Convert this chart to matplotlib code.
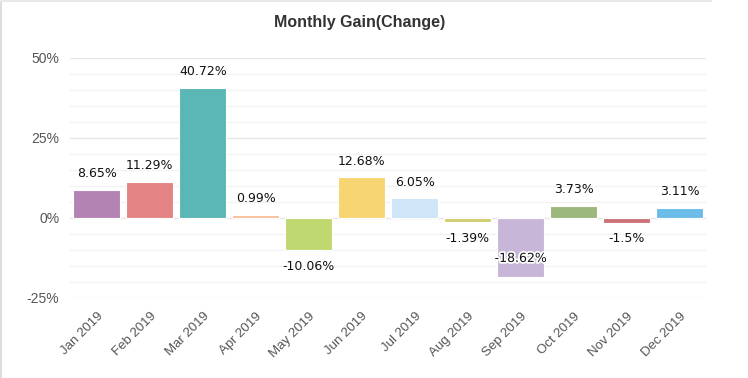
import matplotlib.pyplot as plt
import matplotlib.patheffects as pe
from matplotlib.lines import Line2D
from matplotlib.ticker import MultipleLocator, FuncFormatter

months = ["Jan 2019", "Feb 2019", "Mar 2019", "Apr 2019", "May 2019", "Jun 2019",
          "Jul 2019", "Aug 2019", "Sep 2019", "Oct 2019", "Nov 2019", "Dec 2019"]
gains = [8.65, 11.29, 40.72, 0.99, -10.06, 12.68, 6.05, -1.39, -18.62, 3.73, -1.5, 3.11]
labels = ["8.65%", "11.29%", "40.72%", "0.99%", "-10.06%", "12.68%",
          "6.05%", "-1.39%", "-18.62%", "3.73%", "-1.5%", "3.11%"]
colors = ["#b384b3", "#e48383", "#5bb7b5", "#f9c09a", "#c0d870", "#f8d573",
          "#cfe6f8", "#d1cf70", "#c8b6d8", "#9db87c", "#cc737a", "#6bbce8"]

plt.rcParams['font.family'] = ['Liberation Sans', 'DejaVu Sans']

fig = plt.figure(figsize=(7.48, 3.78), dpi=100)
ax = fig.add_axes([0.094, 0.212, 0.85, 0.635])

x = range(len(months))
ax.bar(x, gains, width=0.88, color=colors, edgecolor="white", linewidth=0.8, zorder=3)

ax.set_xlim(-0.5, 11.5)
ax.set_ylim(-25, 50)

# value labels
for i, (v, lab) in enumerate(zip(gains, labels)):
    if v >= 0:
        ax.annotate(lab, (i, v), xytext=(0, 7), textcoords="offset points",
                    ha="center", va="bottom", fontsize=9, family="DejaVu Sans",
                    color="#111111", zorder=5)
    elif v < -15:
        # no room below, label goes inside the bar
        ax.annotate(lab, (i, v), xytext=(0, 9), textcoords="offset points",
                    ha="center", va="bottom", fontsize=9, family="DejaVu Sans",
                    color="#111111", zorder=5,
                    path_effects=[pe.withStroke(linewidth=2.5, foreground="white")])
    else:
        ax.annotate(lab, (i, v), xytext=(0, -7), textcoords="offset points",
                    ha="center", va="top", fontsize=9, family="DejaVu Sans",
                    color="#111111", zorder=5)

ax.yaxis.set_major_locator(MultipleLocator(25))
ax.yaxis.set_minor_locator(MultipleLocator(5))
ax.yaxis.set_major_formatter(FuncFormatter(lambda v, p: "%d%%" % v))
ax.grid(axis="y", which="major", color="#e6e6e6", linewidth=1, zorder=0)
ax.grid(axis="y", which="minor", color="#f3f3f3", linewidth=1, zorder=0)

ax.set_xticks(list(x))
ax.set_xticklabels(months, rotation=45, ha="right", rotation_mode="anchor")
ax.tick_params(axis="x", length=0, pad=9, labelsize=9.5, labelcolor="#555555")
ax.tick_params(axis="y", which="both", length=0, pad=8, labelsize=10, labelcolor="#555555")

for s in ax.spines.values():
    s.set_visible(False)

fig.text(0.481, 0.94, "Monthly Gain(Change)", ha="center", va="center",
         fontsize=11.5, fontweight="bold", color="#333333")

# thin frame on the left and top like the screenshot
fig.add_artist(Line2D([0.002, 0.002], [0, 0.995], color="#dddddd", linewidth=1.5))
fig.add_artist(Line2D([0, 0.95], [0.997, 0.997], color="#e8e8e8", linewidth=1.5))

fig.savefig("out.png", dpi=100)
